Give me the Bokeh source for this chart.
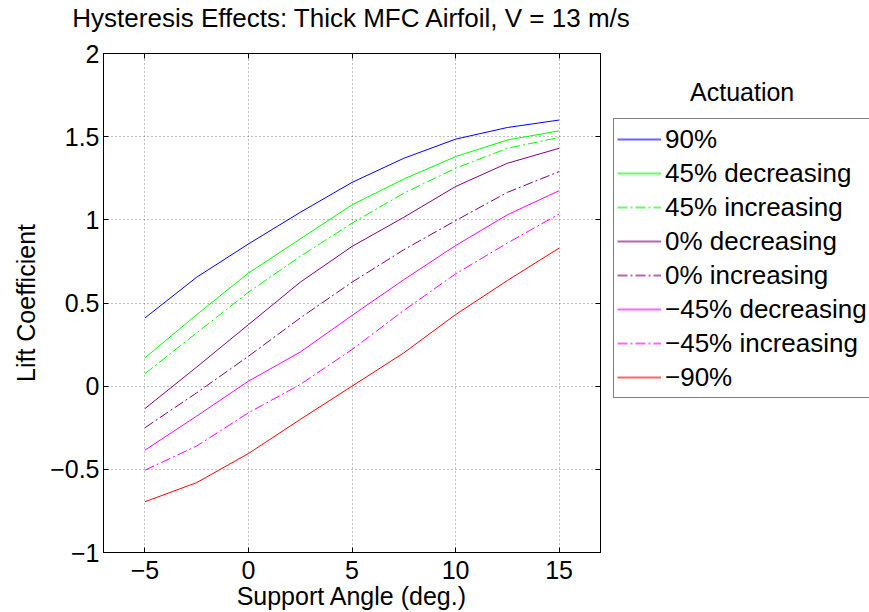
from bokeh.plotting import figure
from bokeh.models import (Legend, LegendItem, LinearAxis, FixedTicker, Label,
                          Range1d)
from bokeh.layouts import row, column
from bokeh.embed import file_html
from bokeh.resources import INLINE

# ---- data ----
support_angle = [-5, -2.5, 0, 2.5, 5, 7.5, 10, 12.5, 15]
cl_90 = [0.41, 0.655, 0.855, 1.045, 1.225, 1.37, 1.485, 1.555, 1.60]
cl_45_dec = [0.17, 0.43, 0.68, 0.885, 1.09, 1.245, 1.38, 1.48, 1.535]
cl_45_inc = [0.075, 0.32, 0.565, 0.78, 0.98, 1.16, 1.31, 1.43, 1.495]
cl_0_dec = [-0.135, 0.115, 0.37, 0.625, 0.84, 1.015, 1.2, 1.34, 1.43]
cl_0_inc = [-0.25, -0.04, 0.18, 0.41, 0.625, 0.82, 0.995, 1.165, 1.29]
cl_m45_dec = [-0.385, -0.18, 0.03, 0.205, 0.425, 0.64, 0.845, 1.03, 1.175]
cl_m45_inc = [-0.505, -0.36, -0.16, 0.01, 0.22, 0.455, 0.675, 0.86, 1.035]
cl_m90 = [-0.695, -0.58, -0.405, -0.2, 0.0, 0.2, 0.43, 0.635, 0.83]

series_labels = ["90%", "45% decreasing", "45% increasing", "0% decreasing",
                 "0% increasing", "\u221245% decreasing", "\u221245% increasing",
                 "\u221290%"]
series_values = [cl_90, cl_45_dec, cl_45_inc, cl_0_dec, cl_0_inc,
                 cl_m45_dec, cl_m45_inc, cl_m90]
series_colors = ["#0000FF", "#00FF00", "#00FF00", "#800080", "#800080",
                 "#FF00FF", "#FF00FF", "#FF0000"]
series_dash = ["solid", "solid", "10 3 2 3", "solid", "10 3 2 3",
               "solid", "10 3 2 3", "solid"]

x_ticks = [-5, 0, 5, 10, 15]
y_ticks = [-1, -0.5, 0, 0.5, 1, 1.5, 2]
y_tick_labels = {-1: "\u22121", -0.5: "\u22120.5", 0: "0", 0.5: "0.5",
                 1: "1", 1.5: "1.5", 2: "2"}
x_tick_labels = {-5: "\u22125", 0: "0", 5: "5", 10: "10", 15: "15"}
chart_title = "Hysteresis Effects: Thick MFC Airfoil, V = 13 m/s"
legend_title = "Actuation"

FONT = "Liberation Sans"
FS = "25px"

# ---- title strip ----
h = figure(width=869, height=40, output_backend="svg", toolbar_location=None,
           x_axis_type=None, y_axis_type=None,
           min_border_left=103, min_border_right=269, min_border_top=0,
           min_border_bottom=0)
h.outline_line_color = None
h.xgrid.visible = False
h.ygrid.visible = False
h.title.text = chart_title
h.title.text_font = FONT
h.title.text_font_size = "26px"
h.title.text_font_style = "normal"
h.title.text_color = "black"
h.title.align = "center"
h.title.standoff = 0

# ---- main plot ----
p = figure(width=605, height=572, output_backend="svg", toolbar_location=None,
           x_range=Range1d(-7, 17), y_range=Range1d(-1, 2),
           min_border_left=103, min_border_right=5, min_border_top=13,
           min_border_bottom=60)
p.background_fill_color = "white"
p.border_fill_color = "white"
p.outline_line_color = "black"
p.outline_line_width = 1

for vals, col, dash in zip(series_values, series_colors, series_dash):
    p.line(support_angle, vals, line_color=col, line_width=1, line_dash=dash)

xa = p.xaxis[0]
ya = p.yaxis[0]
xa.ticker = FixedTicker(ticks=x_ticks)
ya.ticker = FixedTicker(ticks=y_ticks)
xa.major_label_overrides = x_tick_labels
ya.major_label_overrides = y_tick_labels
xa.axis_label = "Support Angle (deg.)"
ya.axis_label = "Lift Coefficient"
for ax in (xa, ya):
    ax.major_label_text_font = FONT
    ax.major_label_text_font_size = FS
    ax.major_label_text_color = "black"
    ax.axis_label_text_font = FONT
    ax.axis_label_text_font_size = FS
    ax.axis_label_text_font_style = "normal"
    ax.axis_label_text_color = "black"
    ax.major_tick_in = 5
    ax.major_tick_out = 0
    ax.minor_tick_line_color = None
    ax.axis_line_color = "black"
    ax.major_tick_line_color = "black"
xa.major_label_standoff = 8
xa.axis_label_standoff = 0
ya.major_label_standoff = 4
ya.axis_label_standoff = 7

for loc, tk in (("above", x_ticks), ("right", y_ticks)):
    a = LinearAxis(ticker=FixedTicker(ticks=tk))
    a.major_label_overrides = {t: "" for t in tk}
    a.major_label_standoff = 0
    a.major_tick_in = 5
    a.major_tick_out = 0
    a.minor_tick_line_color = None
    a.axis_line_color = "black"
    a.major_tick_line_color = "black"
    p.add_layout(a, loc)

for g in (p.xgrid[0], p.ygrid[0]):
    g.grid_line_color = "black"
    g.grid_line_alpha = 0.5
    g.grid_line_dash = "1 3"
    g.grid_line_width = 1
p.xgrid[0].ticker = FixedTicker(ticks=x_ticks)
p.ygrid[0].ticker = FixedTicker(ticks=y_ticks)

# ---- legend panel (continues the x axis to the right, same y scale) ----
q = figure(width=264, height=572, output_backend="svg", toolbar_location=None,
           x_range=Range1d(17.24, 29.99), y_range=p.y_range,
           x_axis_type=None, y_axis_type=None,
           min_border_left=0, min_border_right=0, min_border_top=13,
           min_border_bottom=60)
q.outline_line_color = None
q.background_fill_color = "white"
q.border_fill_color = "white"
q.xgrid.visible = False
q.ygrid.visible = False

items = []
for lab, vals, col, dash in zip(series_labels, series_values, series_colors, series_dash):
    r = q.line(support_angle, vals, line_color=col, line_width=2,
               line_alpha=0.6, line_dash=dash)
    items.append(LegendItem(label=lab, renderers=[r]))

legend = Legend(items=items, location=(8, 154))
legend.label_text_font = FONT
legend.label_text_font_size = "26px"
legend.label_text_color = "black"
legend.glyph_width = 44
legend.glyph_height = 34
legend.label_height = 34
legend.label_standoff = 4
legend.padding = 3
legend.spacing = 0
legend.margin = 0
legend.border_line_color = "black"
legend.border_line_width = 1
legend.background_fill_color = "white"
legend.background_fill_alpha = 1
q.add_layout(legend, "center")

q.add_layout(Label(x=23.84, y=1.769, text=legend_title, text_font=FONT,
                   text_font_size=FS, text_align="center",
                   text_baseline="middle", text_color="black"))

layout = column(h, row(p, q, spacing=0), spacing=0)
open("out.html", "w").write(file_html(layout, INLINE))
